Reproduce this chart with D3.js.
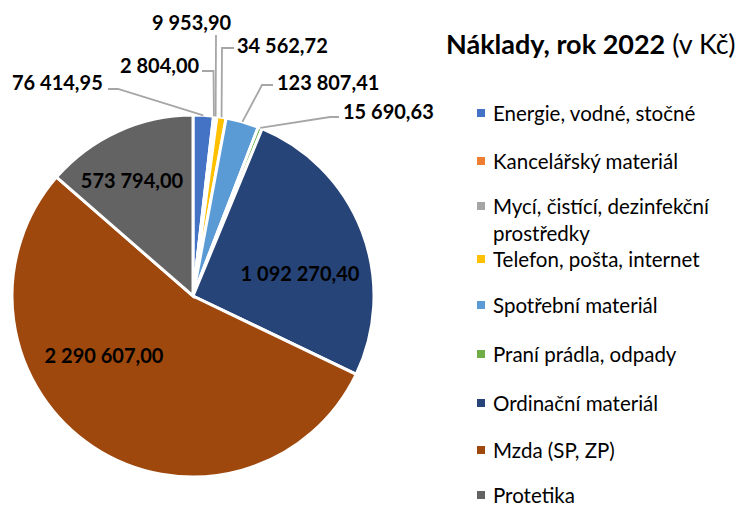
<!DOCTYPE html>
<html>
<head>
<meta charset="utf-8">
<script src="https://cdn.jsdelivr.net/npm/d3@7"></script>
<style>
  html, body { margin: 0; padding: 0; background: #fff; }
  svg { display: block; font-family: Lato, "Open Sans", sans-serif; }
</style>
</head>
<body>
<svg id="chart" width="742" height="508"></svg>
<script>
// ---- data ----
const categories = [
  "Energie, vodné, stočné",
  "Kancelářský materiál",
  "Mycí, čistící, dezinfekční prostředky",
  "Telefon, pošta, internet",
  "Spotřební materiál",
  "Praní prádla, odpady",
  "Ordinační materiál",
  "Mzda (SP, ZP)",
  "Protetika"
];
const values = [76414.95, 2804.00, 9953.90, 34562.72, 123807.41, 15690.63, 1092270.40, 2290607.00, 573794.00];
const valueLabels = ["76 414,95", "2 804,00", "9 953,90", "34 562,72", "123 807,41", "15 690,63", "1 092 270,40", "2 290 607,00", "573 794,00"];
const colors = ["#4472C4", "#ED7D31", "#A5A5A5", "#FFC000", "#5B9BD5", "#70AD47", "#264478", "#9E480E", "#636363"];
const legendLines = [["Energie, vodné, stočné"], ["Kancelářský materiál"], ["Mycí, čistící, dezinfekční", "prostředky"], ["Telefon, pošta, internet"], ["Spotřební materiál"], ["Praní prádla, odpady"], ["Ordinační materiál"], ["Mzda (SP, ZP)"], ["Protetika"]];

// ---- layout (positions only) ----
const cx = 193, cy = 296, R = 181;
// outside label layout: text left x, text center y, line start, elbow
const outside = {
  0: { x: 12,  y: 82,  start: [108, 89], elbow: [118, 89] },
  1: { x: 120, y: 65,  start: [202, 71], elbow: [213.5, 71] },
  2: { x: 152, y: 22,  start: [216, 35], elbow: [216, 35] },
  3: { x: 237, y: 45,  start: [234, 48], elbow: [222, 48] },
  4: { x: 277, y: 82,  start: [273, 85], elbow: [262, 85] },
  5: { x: 343, y: 111, start: [339, 117], elbow: [330, 117] }
};
const inside = { 6: [300, 273], 7: [104, 355], 8: [132, 180] };

const svg = d3.select("#chart");
const pie = d3.pie().sort(null).value(d => d)(values);
const arc = d3.arc().innerRadius(0).outerRadius(R);
const edgeArc = d3.arc().innerRadius(R).outerRadius(R);

const g = svg.append("g").attr("transform", `translate(${cx},${cy})`);
g.selectAll("path.slice").data(pie).enter().append("path")
  .attr("class", "slice")
  .attr("d", arc)
  .attr("fill", (d, i) => colors[i])
  .attr("stroke", "#fff")
  .attr("stroke-width", 3)
  .attr("stroke-linejoin", "miter");

const numSize = 20;
// leader lines
Object.keys(outside).forEach(k => {
  const i = +k, o = outside[k];
  const c = edgeArc.centroid(pie[i]);
  const p = [o.start, o.elbow, [c[0] + cx, c[1] + cy]];
  svg.append("polyline")
    .attr("points", p.map(q => q.join(",")).join(" "))
    .attr("fill", "none")
    .attr("stroke", "#A6A6A6")
    .attr("stroke-width", 1.8);
  svg.append("text")
    .attr("x", o.x).attr("y", o.y)
    .attr("dominant-baseline", "central")
    .attr("font-size", numSize).attr("font-weight", "bold").attr("fill", "#000")
    .text(valueLabels[i]);
});
Object.keys(inside).forEach(k => {
  const i = +k, p = inside[k];
  svg.append("text")
    .attr("x", p[0]).attr("y", p[1])
    .attr("text-anchor", "middle")
    .attr("dominant-baseline", "central")
    .attr("font-size", numSize).attr("font-weight", "bold").attr("fill", "#000")
    .text(valueLabels[i]);
});

// title
const title = svg.append("text").attr("x", 446).attr("y", 54).attr("font-size", 27).attr("fill", "#000");
title.append("tspan").attr("font-weight", "bold").text("Náklady, rok 2022");
title.append("tspan").attr("font-weight", "normal").text(" (v Kč)");

// legend
const legendY = [113, 161, 206, 259, 305, 354, 403, 450, 495];
const lg = svg.append("g");
categories.forEach((c, i) => {
  lg.append("rect").attr("x", 477).attr("y", legendY[i] - 4).attr("width", 8).attr("height", 8).attr("fill", colors[i]);
  legendLines[i].forEach((line, j) => {
    lg.append("text")
      .attr("x", 493).attr("y", legendY[i] + j * 27)
      .attr("dominant-baseline", "central")
      .attr("font-size", 20.5).attr("fill", "#000")
      .text(line);
  });
});
</script>
</body>
</html>
